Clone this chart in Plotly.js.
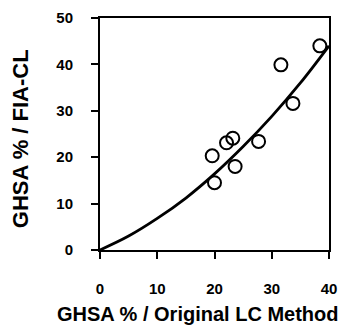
<!DOCTYPE html>
<html>
<head>
<meta charset="utf-8">
<script src="https://cdn.plot.ly/plotly-3.0.1.min.js"></script>
<style>html,body{margin:0;padding:0;background:#fff;}#chart{width:345px;height:326px;}</style>
</head>
<body>
<div id="chart"></div>
<script>
// Measured data points (open circles)
var pointX = [19.6, 20.0, 22.1, 23.2, 23.6, 27.7, 31.6, 33.7, 38.4];
var pointY = [20.3, 14.5, 23.1, 24.1, 18.0, 23.4, 39.9, 31.6, 44.0];

// Fitted curve
var curveX = [0, 5, 10, 15, 20, 25, 30, 35, 40];
var curveY = [0, 3.0, 6.8, 11.2, 16.4, 22.3, 28.8, 36.0, 44.0];

var xTicks = [0, 10, 20, 30, 40];
var yTicks = [0, 10, 20, 30, 40, 50];

var xTitle = 'GHSA % / Original LC Method';
var yTitle = 'GHSA % / FIA-CL';

var tickFont = {family: 'Liberation Sans, Arial, sans-serif', size: 15, color: '#000'};
var xTitleFont = {family: 'Liberation Sans, Arial, sans-serif', size: 20, color: '#000'};
var yTitleFont = {family: 'Liberation Sans, Arial, sans-serif', size: 22, color: '#000'};
function b(s) { return '<b>' + s + '</b>'; }

var traces = [
  {x: curveX, y: curveY, mode: 'lines', type: 'scatter',
   line: {color: '#000', width: 2.8, shape: 'spline'}, hoverinfo: 'skip', cliponaxis: false},
  {x: pointX, y: pointY, mode: 'markers', type: 'scatter',
   marker: {symbol: 'circle-open', size: 13, color: '#000', line: {width: 2, color: '#000'}}, cliponaxis: false}
];

var layout = {
  width: 345, height: 326,
  margin: {l: 100, r: 16, t: 18, b: 76},
  paper_bgcolor: '#fff', plot_bgcolor: '#fff',
  showlegend: false,
  xaxis: {range: [0, 40], tickvals: xTicks, ticktext: xTicks.map(function(v){return b(v);}),
    showgrid: false, zeroline: false, showline: true, linecolor: '#000', linewidth: 2,
    mirror: true, ticks: 'outside', ticklen: 7, tickwidth: 2, tickcolor: '#000',
    tickfont: tickFont, ticklabelstandoff: 17, fixedrange: true},
  yaxis: {range: [0, 50], tickvals: yTicks, ticktext: yTicks.map(function(v){return b(v);}),
    showgrid: false, zeroline: false, showline: true, linecolor: '#000', linewidth: 2,
    mirror: true, ticks: 'outside', ticklen: 7, tickwidth: 2, tickcolor: '#000',
    tickfont: tickFont, ticklabelstandoff: 15, fixedrange: true},
  annotations: [
    {text: b(xTitle), xref: 'paper', yref: 'paper', x: 0.424, y: -0.278,
     xanchor: 'center', yanchor: 'middle', showarrow: false, font: xTitleFont},
    {text: b(yTitle), xref: 'paper', yref: 'paper', x: -0.349, y: 0.478,
     xanchor: 'center', yanchor: 'middle', showarrow: false, textangle: -90, font: yTitleFont}
  ]
};

Plotly.newPlot('chart', traces, layout, {displayModeBar: false, staticPlot: true});
</script>
</body>
</html>
